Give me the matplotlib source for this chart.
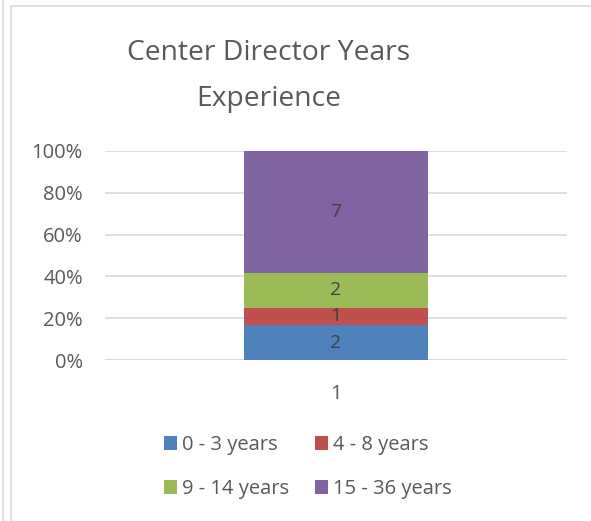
import matplotlib.pyplot as plt
from matplotlib.patches import Rectangle
from matplotlib.ticker import PercentFormatter

plt.rcParams['font.family'] = ['Open Sans', 'DejaVu Sans']

categories = ['1']
series_names = ['0 - 3 years', '4 - 8 years', '9 - 14 years', '15 - 36 years']
series_counts = [[2], [1], [2], [7]]
colors = ['#4f81bd', '#c0504d', '#9bbb59', '#8064a2']
yticks = [0, 20, 40, 60, 80, 100]

fig = plt.figure(figsize=(5.91, 5.21), dpi=100)
# chart frame like the spreadsheet border
fig.patches.append(Rectangle((11 / 591, -0.01), 1.0, 1 - 6 / 521 + 0.01, transform=fig.transFigure,
                             fill=False, edgecolor='#d9d9d9', linewidth=1.2))
fig.lines.append(plt.Line2D([3 / 591, 3 / 591], [0, 1], transform=fig.transFigure,
                            color='#d9d9d9', linewidth=1.2))

ax = fig.add_axes([105 / 591, 1 - 360 / 521, 462 / 591, 209 / 521])

totals = [sum(s[i] for s in series_counts) for i in range(len(categories))]
bottom = [0.0] * len(categories)
handles = []
for name, vals, c in zip(series_names, series_counts, colors):
    pct = [v / t * 100 for v, t in zip(vals, totals)]
    h = ax.bar(range(len(categories)), pct, width=0.4, bottom=bottom, color=c, label=name, zorder=3)
    handles.append(h)
    for i, (p, v) in enumerate(zip(pct, vals)):
        ax.text(i, bottom[i] + p / 2, str(v), ha='center', va='center', fontsize=14, color='#404040', zorder=4)
    bottom = [b + p for b, p in zip(bottom, pct)]

ax.set_xlim(-0.5, 0.5)
ax.set_ylim(0, 100)
ax.set_yticks(yticks)
ax.yaxis.set_major_formatter(PercentFormatter(decimals=0))
ax.set_xticks(range(len(categories)))
ax.set_xticklabels(categories)
ax.tick_params(length=0, labelsize=14.5, colors='#595959')
ax.tick_params(axis='x', pad=17)
ax.tick_params(axis='y', pad=16)
ax.grid(axis='y', color='#d9d9d9', linewidth=1.2, zorder=0)
for s in ax.spines.values():
    s.set_visible(False)
ax.axhline(0, color='#d9d9d9', linewidth=1.2, zorder=1)

fig.text(269 / 591, 1 - 53 / 521, 'Center Director Years', ha='center', va='center', fontsize=20.3, color='#595959')
fig.text(269 / 591, 1 - 99 / 521, 'Experience', ha='center', va='center', fontsize=20.3, color='#595959')

# matplotlib fills legend columns first, reorder so rows read like the reference
order = [0, 2, 1, 3]
fig.legend(handles=[handles[i] for i in order], loc='center', bbox_to_anchor=(308 / 591, 1 - 467 / 521), ncol=2,
           frameon=False, fontsize=14.5, labelcolor='#595959', handlelength=0.65, handleheight=0.65,
           handletextpad=0.25, columnspacing=1.3, labelspacing=1.2)

fig.savefig('out.png', dpi=100)
